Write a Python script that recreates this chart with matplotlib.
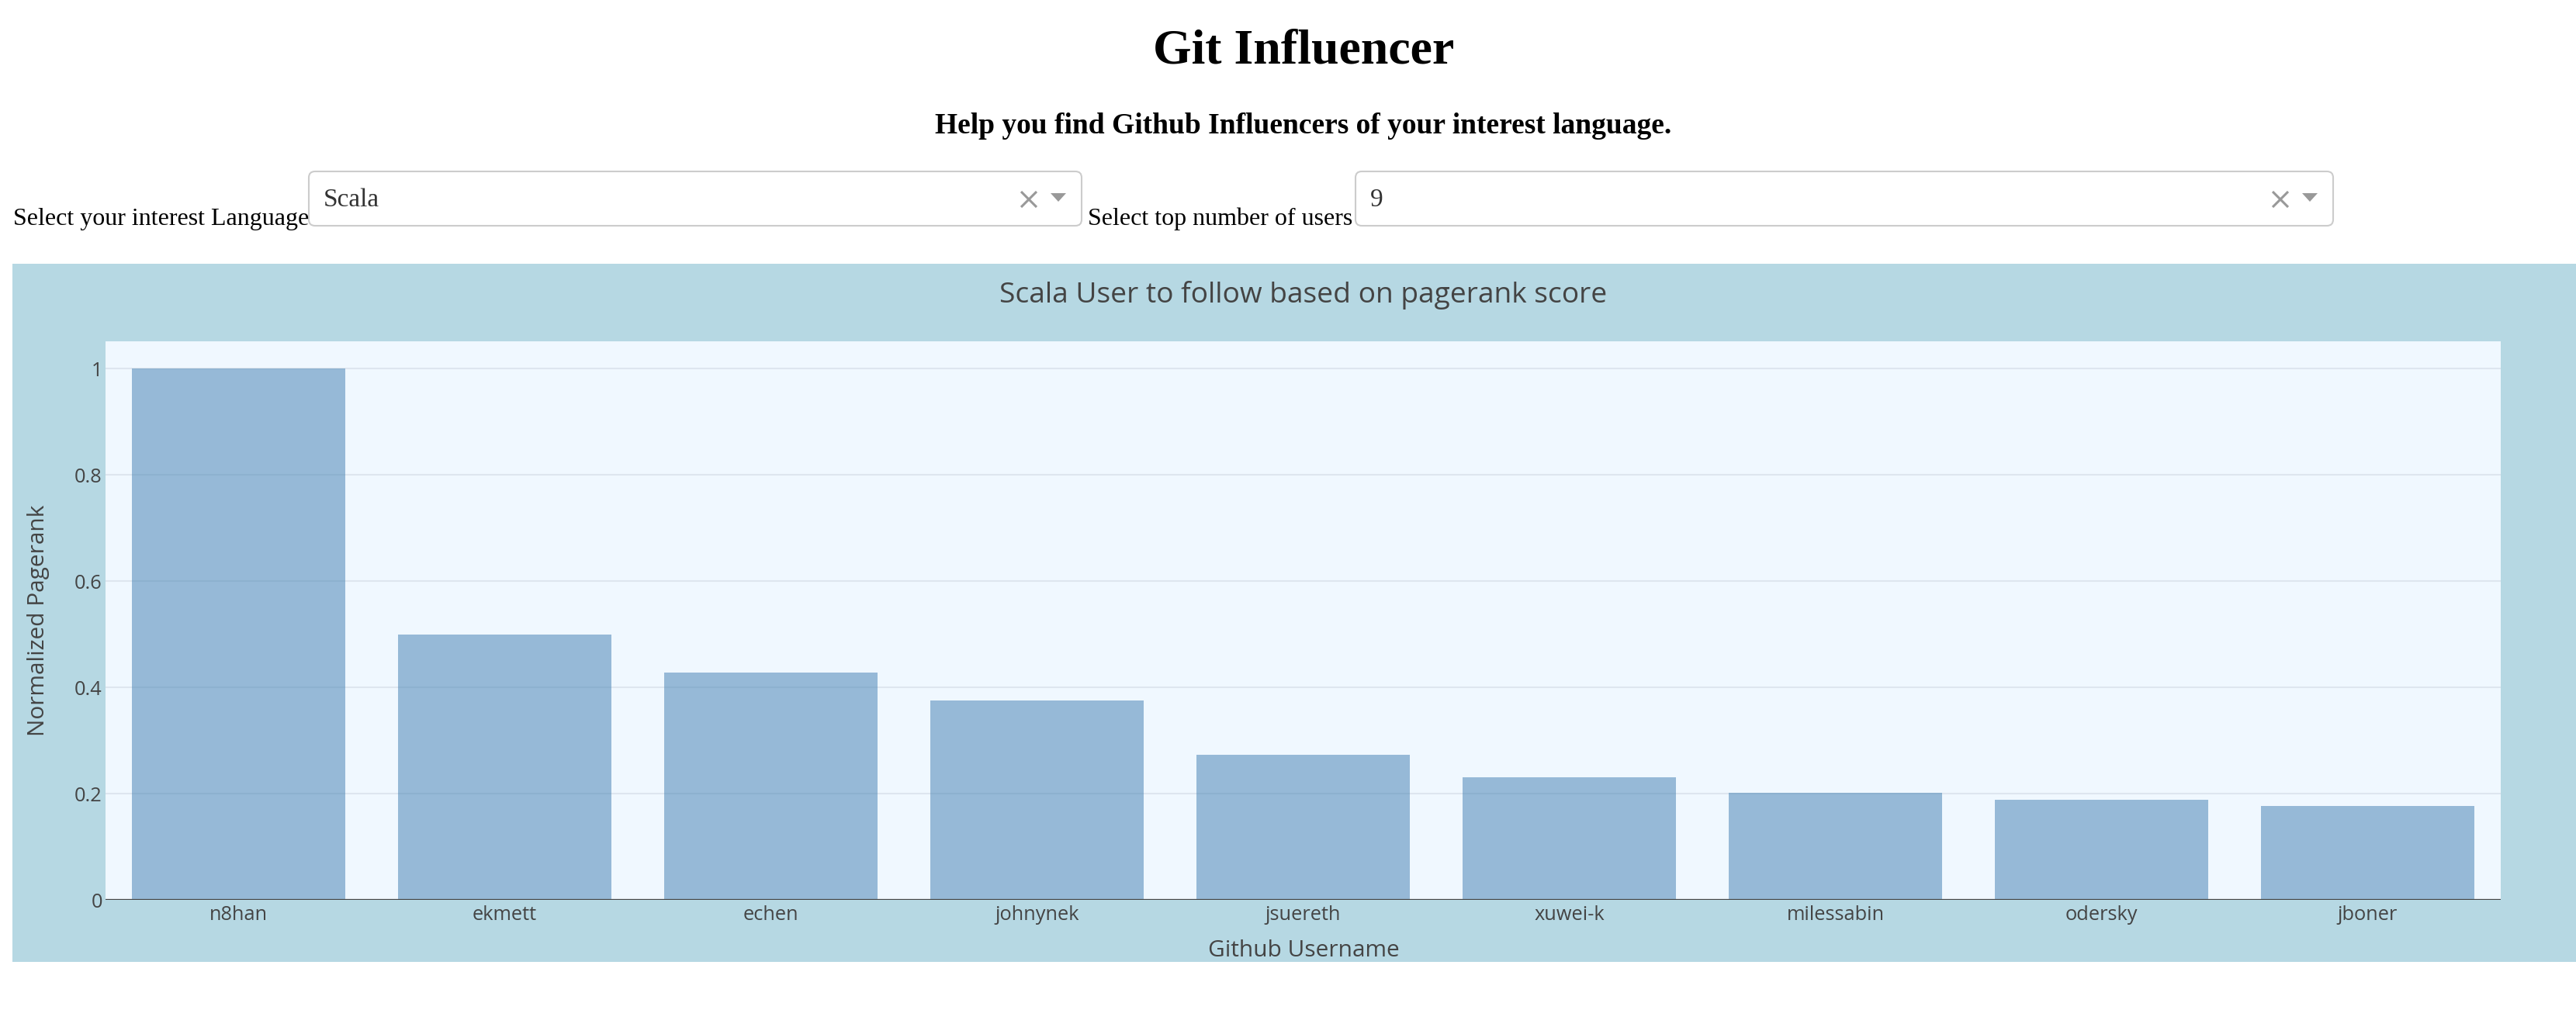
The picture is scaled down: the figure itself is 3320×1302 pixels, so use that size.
import matplotlib.pyplot as plt
from matplotlib.patches import Rectangle, FancyBboxPatch, Polygon

# data
users = ['n8han', 'ekmett', 'echen', 'johnynek', 'jsuereth',
         'xuwei-k', 'milessabin', 'odersky', 'jboner']
pagerank = [1.0, 0.499, 0.428, 0.375, 0.273, 0.231, 0.201, 0.188, 0.177]
y_ticks = [0, 0.2, 0.4, 0.6, 0.8, 1]
y_tick_labels = ['0', '0.2', '0.4', '0.6', '0.8', '1']
language = 'Scala'
top_n = '9'

W, H = 3320, 1302
fig = plt.figure(figsize=(W / 100, H / 100), dpi=100)

# page layer, coordinates in pixels (y down)
page = fig.add_axes([0, 0, 1, 1], zorder=0)
page.set_xlim(0, W)
page.set_ylim(H, 0)
page.axis('off')

serif = 'Liberation Serif'
sans = 'Open Sans'

page.text(1680, 82, 'Git Influencer', ha='center', va='baseline',
          fontsize=46, fontweight='bold', family=serif)
page.text(1680, 172, 'Help you find Github Influencers of your interest language.',
          ha='center', va='baseline', fontsize=27, fontweight='bold', family=serif)


def dropdown(x0, x1, label_x, label, value):
    page.text(label_x, 290, label, ha='left', va='baseline', fontsize=23, family=serif)
    box = FancyBboxPatch((x0, 221), x1 - x0, 70,
                         boxstyle='round,pad=0,rounding_size=8',
                         fc='white', ec='#cccccc', lw=1.5)
    page.add_patch(box)
    page.text(x0 + 19, 266, value, ha='left', va='baseline', fontsize=24,
              family=serif, color='#333333')
    # clear cross
    cx = x1 - 68
    page.plot([cx - 10, cx + 10], [247, 267], color='#999999', lw=2.2, solid_capstyle='butt')
    page.plot([cx - 10, cx + 10], [267, 247], color='#999999', lw=2.2, solid_capstyle='butt')
    # arrow
    ax_ = x1 - 30
    page.add_patch(Polygon([[ax_ - 10, 249], [ax_ + 10, 249], [ax_, 260]],
                           closed=True, fc='#999999', ec='none'))


dropdown(398, 1394, 17, 'Select your interest Language', language)
dropdown(1747, 3007, 1402, 'Select top number of users', top_n)

# chart panel
page.add_patch(Rectangle((16, 340), W - 16, 900, fc='#B6D8E3', ec='none'))
page.text(1680, 390, f'{language} User to follow based on pagerank score',
          ha='center', va='baseline', fontsize=26.7, family=sans, color='#444444')
page.text(50, 800, 'Normalized Pagerank', rotation=90, ha='center', va='center',
          fontsize=21.5, family=sans, color='#444444')
page.text(1680, 1233, 'Github Username', ha='center', va='baseline',
          fontsize=21.5, family=sans, color='#444444')

left, right, top, bottom = 136, 3223, 440, 1160
ax = fig.add_axes([left / W, 1 - bottom / H, (right - left) / W, (bottom - top) / H], zorder=1)
ax.set_facecolor('#F0F8FF')

ax.bar(range(len(users)), pagerank, width=0.8, color='#4682B4', alpha=0.53, zorder=2)
ax.axhline(0, color='#444444', lw=1.6, zorder=3)

ax.set_xlim(-0.5, len(users) - 0.5)
ax.set_ylim(0, 1.0511)
ax.set_xticks(range(len(users)), users)
ax.set_yticks(y_ticks, y_tick_labels)
ax.yaxis.grid(True, color='#DEE6EF', lw=1.5)
ax.set_axisbelow(True)
for s in ax.spines.values():
    s.set_visible(False)
ax.tick_params(axis='both', length=0, labelsize=18.3, labelcolor='#444444')
ax.tick_params(axis='y', pad=3)
ax.tick_params(axis='x', pad=5)
for lab in ax.get_xticklabels() + ax.get_yticklabels():
    lab.set_family(sans)

fig.savefig('out.png', dpi=100)
